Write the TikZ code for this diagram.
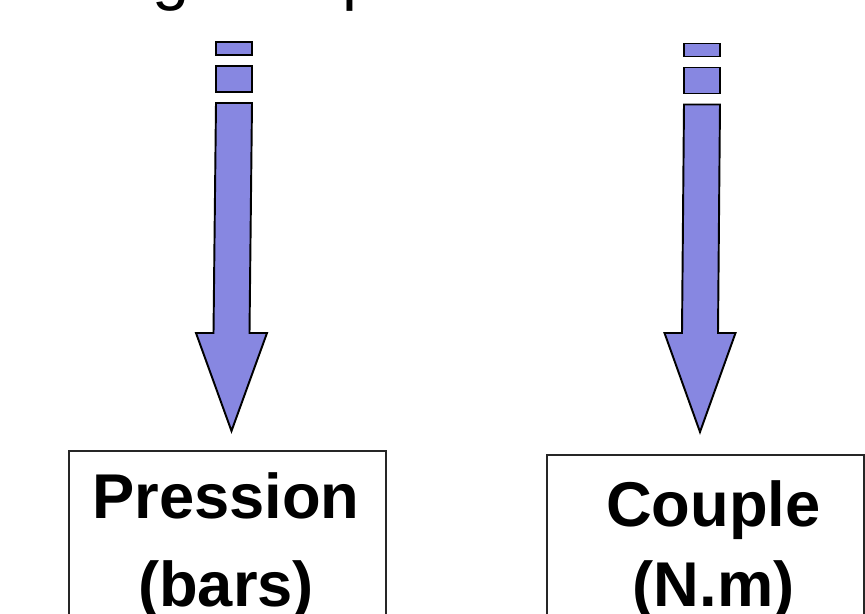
\documentclass[tikz,border=0pt]{standalone}
\usepackage{fontspec}
\setmainfont{Liberation Sans}

\definecolor{arrowfill}{RGB}{135,135,225}

\tikzset{
    stripe/.style={draw=black, fill=arrowfill, line width=1.1pt, line join=miter},
    unitbox/.style={draw=black!85, line width=0.9pt, anchor=north west, minimum width=317*0.2mm, minimum height=250*0.2mm, inner sep=0pt},
    unittext/.style={anchor=north, align=center, inner sep=0pt, font=\bfseries\fontsize{36}{#1}\selectfont},
    cuttext/.style={anchor=base, inner sep=0pt, font=\fontsize{38}{44}\selectfont}
}

\begin{document}
\begin{tikzpicture}[x=0.2mm, y=-0.2mm]
    % Picture frame, everything below the lower edge is cut off
    \useasboundingbox (0,0) rectangle (865,614);
    \clip (0,0) rectangle (865,614);

    % Line of text above, only the descenders are visible
    \node[cuttext] (topg) at (171,-3) {g};
    \node[cuttext] (topp) at (361,-3) {p};

    % Boxes with the units
    \node[unitbox] (presbox) at (68,450) {};
    \node[unitbox] (coupbox) at (546,454) {};
    \node[unittext=50.5] (pres) at (226,472) {Pression\\(bars)};
    \node[unittext=45.5] (coup) at (713.5,480) {Couple\\(N.m)};

    % Striped block arrows, top centre / bottom centre / y shift / tip
    \foreach \xt/\xb/\dy/\ytip in {234/231.5/0/431, 702/700/1.5/432}{
        % Two small stripes on top
        \draw[stripe] (\xt-18,42+\dy) rectangle (\xt+18,55+\dy);
        \draw[stripe] (\xt-18,66+\dy) rectangle (\xt+18,92+\dy);
        % Shaft and head
        \draw[stripe] (\xt-18,103+\dy) -- (\xt+18,103+\dy) -- (\xb+18,333)
            -- (\xb+35.5,333) -- (\xb,\ytip) -- (\xb-35.5,333) -- (\xb-18,333) -- cycle;
    }
\end{tikzpicture}
\end{document}
